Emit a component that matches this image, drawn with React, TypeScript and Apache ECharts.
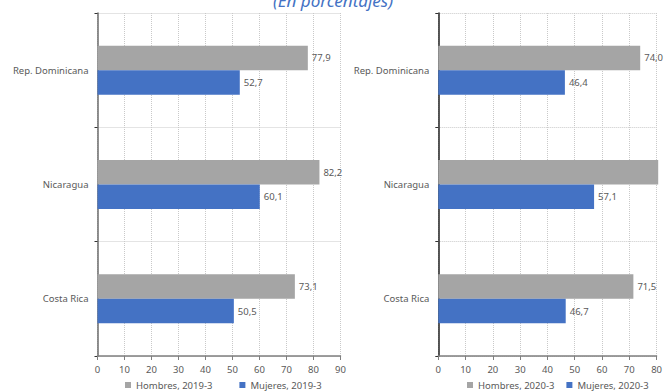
import React, { useEffect, useRef } from "react";
import * as echarts from "echarts";

const categories = ["Costa Rica", "Nicaragua", "Rep. Dominicana"];
const hombres2019 = [73.1, 82.2, 77.9];
const mujeres2019 = [50.5, 60.1, 52.7];
const hombres2020 = [71.5, 80.6, 74.0];
const mujeres2020 = [46.7, 57.1, 46.4];
const names2019 = ["Hombres, 2019-3", "Mujeres, 2019-3"];
const names2020 = ["Hombres, 2020-3", "Mujeres, 2020-3"];
const titleText = "(En porcentajes)";

const GRAY = "#a5a5a5";
const BLUE = "#4472c4";
const TXT = "#595959";
const FONT = "Noto Sans";

function bar(name: string, data: number[], color: string, idx: number, max: number) {
  return {
    type: "bar",
    name,
    data,
    xAxisIndex: idx,
    yAxisIndex: idx,
    barWidth: 24.5,
    barGap: "0%",
    clip: false,
    itemStyle: { color },
    label: {
      show: true,
      position: "right",
      distance: 4,
      formatter: (p: any) =>
        Number(p.value) > max ? "" : Number(p.value).toFixed(1).replace(".", ","),
      color: TXT,
      fontSize: 9.5,
      fontFamily: FONT,
    },
  };
}

function xAxis(idx: number, max: number) {
  return {
    type: "value",
    gridIndex: idx,
    min: 0,
    max,
    interval: 10,
    axisLine: { show: true, lineStyle: { color: "#7f7f7f", width: 1.5 } },
    axisTick: { show: true, length: 4, lineStyle: { color: "#7f7f7f" } },
    axisLabel: { color: TXT, fontSize: 9.5, fontFamily: FONT, margin: 8 },
    splitLine: { show: true, lineStyle: { color: "#c9c9c9", type: "dotted" } },
  };
}

function yAxis(idx: number, lineColor: string) {
  return {
    type: "category",
    gridIndex: idx,
    data: categories,
    axisLine: { show: true, lineStyle: { color: lineColor, width: 1.5 } },
    axisTick: { show: true, length: 3, lineStyle: { color: "#333" } },
    axisLabel: { color: TXT, fontSize: 9.5, fontFamily: FONT, margin: 9 },
    splitLine: { show: true, lineStyle: { color: "#c9c9c9", type: "dotted" } },
  };
}

export default function App() {
  const ref = useRef<HTMLDivElement>(null);
  useEffect(() => {
    const chart = echarts.init(ref.current!, null, { renderer: "svg" });
    chart.setOption({
      animation: false,
      backgroundColor: "#ffffff",
      textStyle: { fontFamily: FONT },
      graphic: [
        {
          type: "text",
          x: 333,
          y: 9,
          style: {
            text: titleText,
            fill: BLUE,
            font: `italic normal 17px "${FONT}"`,
            align: "center",
            verticalAlign: "bottom",
          },
        },
      ],
      grid: [
        { left: 97.5, top: 13, width: 243, height: 343 },
        { left: 438.3, top: 13, width: 222, height: 343 },
      ],
      xAxis: [xAxis(0, 90), xAxis(1, 80)],
      yAxis: [yAxis(0, "#6d6d6d"), yAxis(1, "#222")],
      legend: [
        {
          data: names2019,
          left: 120,
          top: 375,
          itemWidth: 6,
          itemHeight: 6,
          itemGap: 27,
          icon: "rect",
          textStyle: { color: TXT, fontSize: 9.5, fontFamily: FONT },
        },
        {
          data: names2020,
          left: 462,
          top: 375,
          itemWidth: 6,
          itemHeight: 6,
          itemGap: 12,
          icon: "rect",
          textStyle: { color: TXT, fontSize: 9.5, fontFamily: FONT },
        },
      ],
      series: [
        bar(names2019[0], hombres2019, GRAY, 0, 90),
        bar(names2019[1], mujeres2019, BLUE, 0, 90),
        bar(names2020[0], hombres2020, GRAY, 1, 80),
        bar(names2020[1], mujeres2020, BLUE, 1, 80),
      ],
    });
    return () => chart.dispose();
  }, []);
  return (
    <div
      ref={ref}
      style={{ position: "absolute", left: 0, top: 0, width: 665, height: 392 }}
    />
  );
}
